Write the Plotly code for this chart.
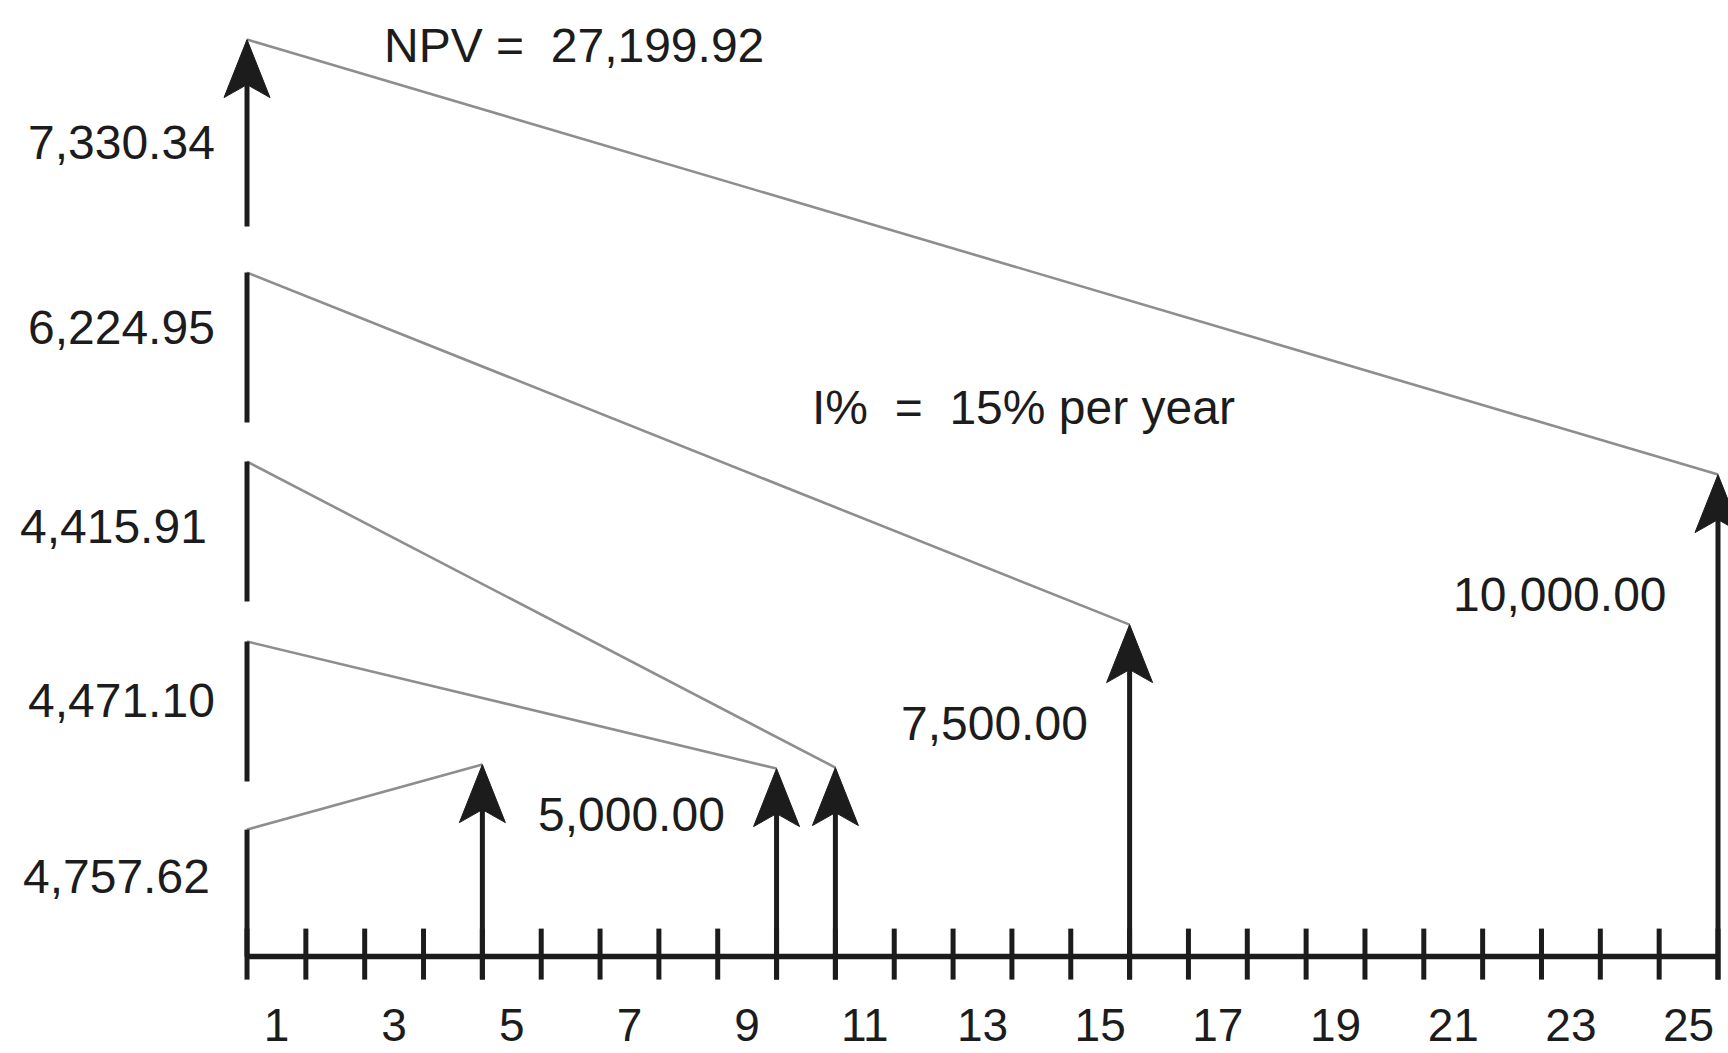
import plotly.graph_objects as go

# ---------------- data ----------------
periods = [4, 9, 10, 15, 25]                      # years in which the cash flows occur
cash_flows = [5000.00, 5000.00, 5000.00, 7500.00, 10000.00]
present_values = [4757.62, 4471.10, 4415.91, 6224.95, 7330.34]
npv_total = 27199.92
interest_rate_pct = 15
horizon = 25
tick_labels = [1, 3, 5, 7, 9, 11, 13, 15, 17, 19, 21, 23, 25]

# schematic (not-to-scale) drawing heights, in diagram units
arrow_tip_heights = [192, 188, 189, 332, 482]
pv_bar_bottoms = [0, 175, 355, 534, 730]
pv_bar_tops = [127, 315, 495, 684, 917]

# ---------------- layout constants ----------------
W, H = 1728, 1053
X_RANGE = [-4.198, 25.17]
Y_RANGE = [-96.4, 956.6]
px_x = W / (X_RANGE[1] - X_RANGE[0])
px_y = H / (Y_RANGE[1] - Y_RANGE[0])

BLACK = '#1c1c1c'
GRAY = '#8e8e8e'
FONT = 'Liberation Sans, Arial, Helvetica, sans-serif'
FS = 48
TICK_FS = 46

HEAD_W, HEAD_L, HEAD_NOTCH = 46, 58, 13


def head(x, y):
    hw = HEAD_W / 2 / px_x
    hl = HEAD_L / px_y
    hn = (HEAD_L - HEAD_NOTCH) / px_y
    return [x, x + hw, x, x - hw, x, None], [y, y - hl, y - hn, y - hl, y, None]


fig = go.Figure()

# grey discounting connectors
cx, cy = [], []
for p, top, tip in zip(periods, pv_bar_tops, arrow_tip_heights):
    cx += [0, p, None]
    cy += [top, tip, None]
fig.add_trace(go.Scatter(x=cx, y=cy, mode='lines',
                         line=dict(color=GRAY, width=2.6), hoverinfo='skip'))

# time axis line
fig.add_trace(go.Scatter(x=[0, horizon], y=[0, 0], mode='lines',
                         line=dict(color=BLACK, width=5.5), hoverinfo='skip'))

# tick marks crossing the time axis
tx, ty = [], []
for t in range(0, horizon + 1):
    tx += [t, t, None]
    ty += [-23, 28, None]
fig.add_trace(go.Scatter(x=tx, y=ty, mode='lines',
                         line=dict(color=BLACK, width=5), hoverinfo='skip'))

# stems: cash-flow arrows and present-value bars
sx, sy = [], []
for p, tip in zip(periods, arrow_tip_heights):
    sx += [p, p, None]
    sy += [-23, tip - 35, None]
for i, (b, t) in enumerate(zip(pv_bar_bottoms, pv_bar_tops)):
    top = t - 35 if i == len(pv_bar_tops) - 1 else t
    sx += [0, 0, None]
    sy += [b, top, None]
fig.add_trace(go.Scatter(x=sx, y=sy, mode='lines',
                         line=dict(color=BLACK, width=5), hoverinfo='skip'))

# arrow heads
hx, hy = [], []
for p, tip in zip(periods, arrow_tip_heights):
    a, b = head(p, tip)
    hx += a
    hy += b
a, b = head(0, pv_bar_tops[-1])
hx += a
hy += b
fig.add_trace(go.Scatter(x=hx, y=hy, mode='lines', fill='toself', fillcolor=BLACK,
                         line=dict(color=BLACK, width=1), hoverinfo='skip'))

# ---------------- text ----------------
annotations = []


def add_text(text, x, y, xanchor='center'):
    annotations.append(dict(text=text, x=x, y=y, xref='x', yref='y', showarrow=False,
                            xanchor=xanchor, yanchor='middle',
                            font=dict(family=FONT, size=FS, color=BLACK)))


# present value labels (left)
pv_label_pos = [(-0.60, 80), (-0.51, 256), (-0.65, 430), (-0.51, 629), (-0.51, 814)]
for v, (x, y) in zip(present_values, pv_label_pos):
    add_text(f"{v:,.2f}", x, y, 'right')

# cash flow labels
cf_label_pos = {0: (6.53, 142), 3: (12.70, 233), 4: (22.31, 362)}
for i, (x, y) in cf_label_pos.items():
    add_text(f"{cash_flows[i]:,.2f}", x, y)

NB = '\u00a0'
add_text(f"NPV{NB}={NB} {npv_total:,.2f}", 5.56, 911)
add_text(f"I%{NB} ={NB} {interest_rate_pct}% per year", 13.2, 549)

fig.update_layout(
    width=W, height=H,
    margin=dict(l=0, r=0, t=0, b=0, autoexpand=False),
    paper_bgcolor='white', plot_bgcolor='white',
    showlegend=False,
    annotations=annotations,
    xaxis=dict(range=X_RANGE, showgrid=False, zeroline=False, showline=False,
               tickmode='array', tickvals=[k - 0.5 for k in tick_labels],
               ticktext=[str(k) for k in tick_labels],
               ticks='', ticklabelstandoff=37,
               tickfont=dict(family=FONT, size=TICK_FS, color=BLACK),
               anchor='free', position=-Y_RANGE[0] / (Y_RANGE[1] - Y_RANGE[0]),
               fixedrange=True),
    yaxis=dict(range=Y_RANGE, visible=False, fixedrange=True),
)

fig.write_html(
    "out.html",
    config={'displayModeBar': False},
    post_script="document.body.style.margin='0';document.body.style.overflow='hidden';",
)
